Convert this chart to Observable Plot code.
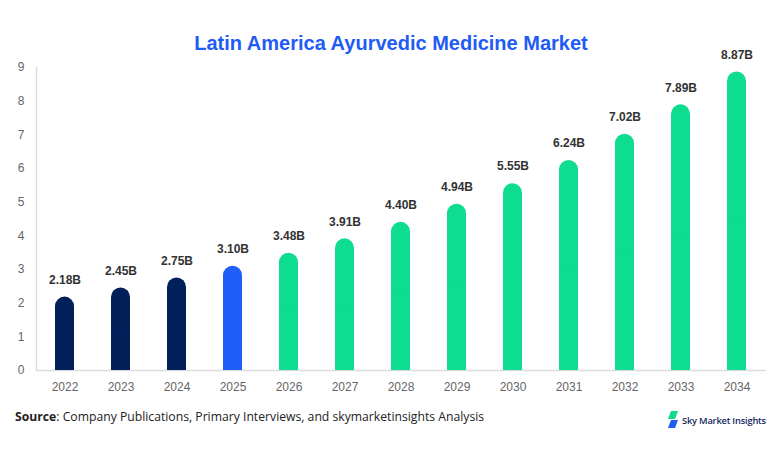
<!DOCTYPE html>
<html>
<head>
<meta charset="utf-8">
<script src="https://cdn.jsdelivr.net/npm/d3@7"></script>
<script src="https://cdn.jsdelivr.net/npm/@observablehq/plot@0.6"></script>
<style>
  html, body { margin: 0; padding: 0; background: #fff; }
  #wrap { position: relative; width: 782px; height: 454px; overflow: hidden; }
  #title { position: absolute; top: 32px; left: 0; width: 782px; text-align: center;
    font-family: "Liberation Sans", Arial, sans-serif; font-weight: bold; font-size: 20px; color: #1f5cf5; }
  #chart { position: absolute; top: 0; left: 0; }
  #source { position: absolute; top: 408px; left: 15px; font-family: "Open Sans", sans-serif; font-size: 12.2px; color: #222; }
  #logo { position: absolute; top: 411px; left: 667px; display: flex; align-items: center; gap: 3px;
    font-family: "Open Sans", sans-serif; font-weight: 600; font-size: 9.3px; color: #13265e; letter-spacing: -0.2px; }
</style>
</head>
<body>
<div id="wrap">
  <div id="title">Latin America Ayurvedic Medicine Market</div>
  <div id="chart"></div>
  <div id="source"><b>Source</b>: Company Publications, Primary Interviews, and skymarketinsights Analysis</div>
  <div id="logo">
    <svg width="12" height="18" viewBox="0 0 12 18">
      <polygon points="4,0 11,0 8,8 1,8" fill="#12d98c"/>
      <polygon points="4,9 11,9 8,17 1,17" fill="#1f5cf5"/>
    </svg>
    <span>Sky Market Insights</span>
  </div>
</div>
<script>
const years = ["2022","2023","2024","2025","2026","2027","2028","2029","2030","2031","2032","2033","2034"];
const values = [2.18, 2.45, 2.75, 3.10, 3.48, 3.91, 4.40, 4.94, 5.55, 6.24, 7.02, 7.89, 8.87];
const labels = ["2.18B","2.45B","2.75B","3.10B","3.48B","3.91B","4.40B","4.94B","5.55B","6.24B","7.02B","7.89B","8.87B"];
const phases = ["hist","hist","hist","base","fc","fc","fc","fc","fc","fc","fc","fc","fc"];
const phaseColors = {hist: "#01205a", base: "#1f5ef7", fc: "#0edc8f"};

const data = years.map((y, i) => ({year: y, value: values[i], label: labels[i], phase: phases[i]}));

const chart = Plot.plot({
  width: 782,
  height: 400,
  marginTop: 67,
  marginBottom: 30,
  marginLeft: 36,
  marginRight: 16,
  x: {domain: years, paddingInner: 0.66, paddingOuter: 0.33, label: null},
  y: {domain: [0, 9], ticks: d3.range(0, 10), label: null},
  style: {fontFamily: "Liberation Sans, Arial, sans-serif", fontSize: "12px", color: "#666", background: "transparent"},
  marks: [
    Plot.ruleY([0], {stroke: "#ddd", strokeWidth: 1.5}),
    Plot.frame({anchor: "left", stroke: "#ddd", strokeWidth: 1.5}),
    Plot.axisY({tickSize: 0, tickPadding: 12, fill: "#666", fontSize: 12, label: null}),
    Plot.axisX({tickSize: 0, tickPadding: 12, fill: "#666", fontSize: 12, label: null}),
    Plot.barY(data, {x: "year", y: "value", fill: d => phaseColors[d.phase], rx: 9.5}),
    Plot.barY(data, {x: "year", y1: 0, y2: d => d.value / 2, fill: d => phaseColors[d.phase]}),
    Plot.text(data, {x: "year", y: "value", text: "label", dy: -17, fill: "#333", fontWeight: "bold", fontSize: 12})
  ]
});
document.getElementById("chart").appendChild(chart);
</script>
</body>
</html>
